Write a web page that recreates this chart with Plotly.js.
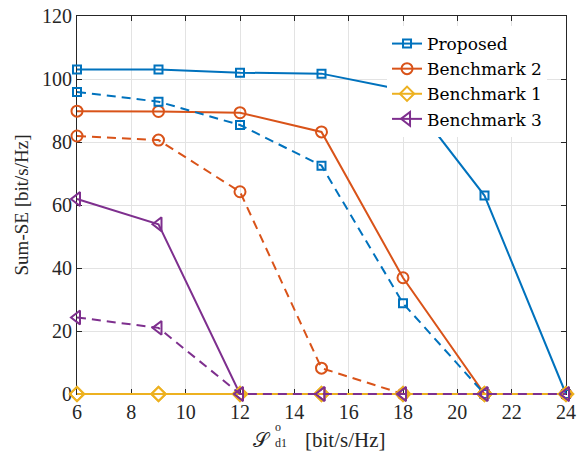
<!DOCTYPE html>
<html>
<head>
<meta charset="utf-8">
<script src="https://cdn.plot.ly/plotly-3.0.1.min.js"></script>
<style>
  html, body { margin: 0; padding: 0; background: #fff; }
  #chart { width: 578px; height: 451px; }
  /* let the curves lying on the zero line show at full width */
  #chart .cartesianlayer .plot,
  #chart .scatterlayer,
  #chart .scatterlayer * { clip-path: none !important; }
</style>
</head>
<body>
<div id="chart"></div>
<script>
// Required rate S_d1 on the x axis
const rates = [6, 9, 12, 15, 18, 21, 24];

// Sum-SE, solid curves
const proposedSolid = [103, 103, 102, 101.7, 96.5, 63, 0];
const bench2Solid   = [89.8, 89.7, 89.3, 83.2, 36.9, 0, 0];
const bench1Solid   = [0, 0, 0, 0, 0, 0, 0];
const bench3Solid   = [61.9, 53.9, 0, 0, 0, 0, 0];

// Sum-SE, dashed curves
const proposedDashed = [95.9, 92.8, 85.4, 72.5, 28.8, 0, 0];
const bench2Dashed   = [81.9, 80.6, 64.2, 8.2, 0, 0, 0];
const bench1Dashed   = [0, 0, 0, 0, 0, 0, 0];
const bench3Dashed   = [24.3, 21, 0, 0, 0, 0, 0];

const names = ['Proposed', 'Benchmark 2', 'Benchmark 1', 'Benchmark 3'];
const colors = ['#0072BD', '#D95319', '#EDB120', '#7E2F8E'];
const symbols = ['square-open', 'circle-open', 'diamond-open', 'triangle-left-open'];
const sizes = [8, 11, 11, 12];

function curve(y, k, dashed, rank) {
  return {
    x: rates, y: y, type: 'scatter', mode: 'lines+markers',
    name: names[k], showlegend: !dashed, legendrank: rank,
    cliponaxis: false,
    line: { color: colors[k], width: 2, dash: dashed ? '9px,6px' : 'solid' },
    marker: { symbol: symbols[k], size: sizes[k], color: colors[k],
              line: { color: colors[k], width: 2 } }
  };
}

const traces = [
  curve(proposedSolid, 0, false, 1),
  curve(bench2Solid, 1, false, 2),
  curve(bench3Solid, 3, false, 4),
  curve(bench1Solid, 2, false, 3),
  curve(proposedDashed, 0, true, 5),
  curve(bench2Dashed, 1, true, 6),
  curve(bench1Dashed, 2, true, 7),
  curve(bench3Dashed, 3, true, 8)
];

const serif = 'DejaVu Serif, Liberation Serif, serif';
const ink = '#262626';

const axisBase = {
  showline: true, linecolor: ink, linewidth: 1, mirror: 'ticks',
  ticks: 'inside', ticklen: 5, tickcolor: ink, layer: 'below traces',
  showgrid: true, gridcolor: '#e3e3e3', gridwidth: 1, zeroline: false,
  tickfont: { family: 'Liberation Serif, serif', size: 20, color: ink }
};

const layout = {
  width: 578, height: 451,
  margin: { l: 77, r: 12, t: 16, b: 57 },
  paper_bgcolor: '#fff', plot_bgcolor: '#fff',
  font: { family: serif, color: ink },
  showlegend: true,
  legend: {
    x: 0.634, xanchor: 'left', y: 0.9735, yanchor: 'top',
    bgcolor: '#fff', borderwidth: 0,
    font: { family: serif, size: 17, color: '#000' },
    tracegroupgap: 0
  },
  xaxis: Object.assign({}, axisBase, {
    range: [6, 24], tickvals: [6, 8, 10, 12, 14, 16, 18, 20, 22, 24]
  }),
  yaxis: Object.assign({}, axisBase, {
    range: [0, 120], tickvals: [0, 20, 40, 60, 80, 100, 120],
    title: { text: 'Sum-SE [bit/s/Hz]', standoff: 8,
             font: { family: 'Liberation Serif, serif', size: 19, color: ink } }
  }),
  annotations: [
    { xref: 'paper', yref: 'paper', x: 0.4008, y: -0.1217, xanchor: 'right', yanchor: 'middle',
      text: '𝒮', showarrow: false, font: { family: 'DejaVu Sans, serif', size: 20, color: ink } },
    { xref: 'paper', yref: 'paper', x: 0.4008, y: -0.0885, xanchor: 'left', yanchor: 'middle',
      text: 'o', showarrow: false, font: { family: 'Liberation Serif, serif', size: 12, color: ink } },
    { xref: 'paper', yref: 'paper', x: 0.4008, y: -0.1296, xanchor: 'left', yanchor: 'middle',
      text: 'd1', showarrow: false, font: { family: 'Liberation Serif, serif', size: 12, color: ink } },
    { xref: 'paper', yref: 'paper', x: 0.462, y: -0.1217, xanchor: 'left', yanchor: 'middle',
      text: '[bit/s/Hz]', showarrow: false, font: { family: 'Liberation Serif, serif', size: 21, color: ink } }
  ]
};

Plotly.newPlot('chart', traces, layout, { displayModeBar: false, staticPlot: true });
</script>
</body>
</html>
